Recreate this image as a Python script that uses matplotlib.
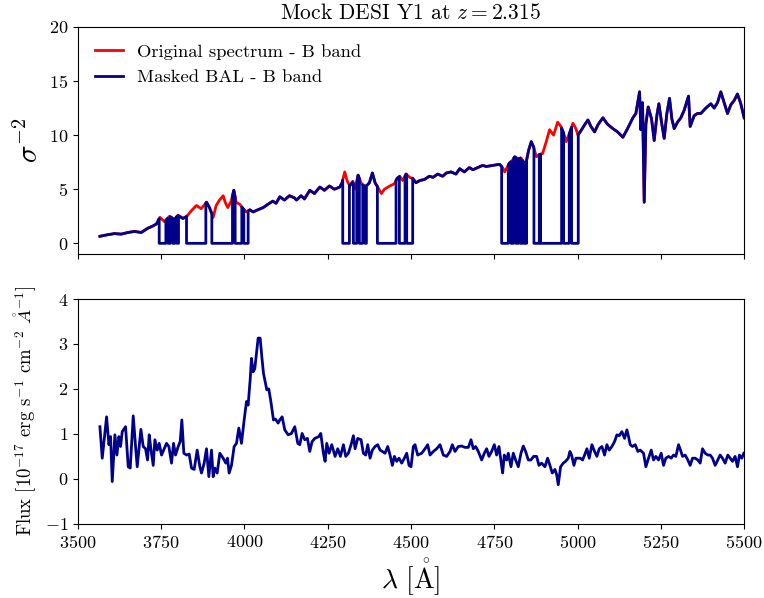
import numpy as np
import matplotlib
matplotlib.use("Agg")
import matplotlib.pyplot as plt

plt.rcParams['font.family'] = ['cmr10', 'DejaVu Serif']
plt.rcParams['mathtext.fontset'] = 'cm'
plt.rcParams['axes.formatter.use_mathtext'] = True

# sigma^-2 of the original spectrum
lam_ivar = [3566, 3590, 3610, 3630, 3650, 3670, 3690, 3710, 3725, 3736,
            3746, 3760, 3775, 3790, 3800, 3815, 3827, 3840, 3856, 3870,
            3886, 3895, 3906, 3915, 3925, 3936, 3942, 3950, 3960, 3968,
            3975, 3986, 3996, 4006, 4016, 4026, 4040, 4056, 4070, 4085,
            4095, 4106, 4120, 4135, 4150, 4156, 4170, 4180, 4196, 4210,
            4226, 4240, 4255, 4270, 4286, 4293, 4301, 4308, 4316, 4325,
            4333, 4341, 4350, 4358, 4366, 4375, 4384, 4392, 4400, 4411,
            4420, 4436, 4450, 4458, 4466, 4475, 4485, 4496, 4505, 4515,
            4526, 4540, 4555, 4566, 4580, 4595, 4606, 4620, 4635, 4646,
            4660, 4675, 4686, 4700, 4715, 4726, 4745, 4766, 4775, 4781,
            4795, 4805, 4811, 4822, 4830, 4838, 4845, 4853, 4861, 4868,
            4876, 4885, 4895, 4905, 4916, 4928, 4940, 4950, 4958, 4966,
            4976, 4986, 4995, 5001, 5010, 5020, 5031, 5040, 5051, 5062,
            5076, 5090, 5106, 5120, 5136, 5150, 5166, 5175, 5186, 5190,
            5195, 5200, 5205, 5212, 5222, 5230, 5238, 5244, 5252, 5260,
            5268, 5276, 5283, 5290, 5300, 5310, 5320, 5333, 5338, 5350,
            5360, 5370, 5385, 5400, 5410, 5420, 5430, 5440, 5450, 5460,
            5470, 5480, 5490, 5500]
ivar_orig = [0.65, 0.8, 0.9, 0.85, 1.0, 1.1, 1.0, 1.4, 1.6, 1.8,
             2.4, 2.0, 2.5, 2.2, 2.6, 2.3, 2.5, 3.0, 3.5, 3.2,
             3.8, 3.3, 2.4, 3.5, 4.0, 4.4, 3.8, 3.3, 3.9, 4.9,
             3.8, 3.6, 3.2, 2.9, 3.1, 2.9, 3.1, 3.3, 3.6, 3.9,
             3.7, 4.3, 4.0, 4.4, 4.2, 4.0, 4.4, 4.1, 4.9, 4.6,
             5.2, 4.9, 5.3, 5.0, 5.2, 5.6, 6.6, 5.8, 5.3, 5.7,
             5.0, 6.3, 5.6, 5.3, 5.3, 5.6, 6.5, 5.6, 5.2, 4.6,
             5.0, 5.3, 5.5, 6.0, 6.2, 5.8, 6.4, 6.1, 6.0, 5.6,
             5.8, 5.9, 6.2, 6.1, 6.4, 6.2, 6.5, 6.6, 6.4, 6.9,
             6.6, 7.0, 6.8, 7.0, 7.2, 7.1, 7.2, 7.3, 7.0, 6.6,
             7.4, 7.7, 8.0, 7.8, 7.9, 7.5, 7.4, 8.6, 9.4, 8.9,
             8.0, 8.2, 8.3, 9.3, 10.5, 10.0, 11.2, 10.8, 10.2, 9.4,
             10.2, 11.1, 10.6, 10.0, 10.4, 10.9, 11.4, 10.8, 10.3, 11.0,
             11.6, 11.0, 10.6, 10.3, 9.8, 10.6, 11.6, 12.0, 14.0, 10.5,
             13.0, 3.8, 11.0, 12.6, 11.5, 9.5, 11.8, 12.9, 11.2, 9.7,
             12.0, 13.4, 11.5, 10.6, 11.2, 11.6, 12.3, 13.6, 10.8, 11.8,
             12.0, 12.0, 12.5, 12.9, 12.5, 13.0, 14.0, 13.0, 12.0, 12.8,
             13.2, 13.8, 12.9, 11.6]

# BAL-masked wavelength windows (sigma^-2 set to zero)
mask_lo = [3744, 3770, 3784, 3797, 3826, 3902, 3972, 3998,
           4295, 4327, 4345, 4362, 4399, 4465, 4487,
           4772, 4800, 4815, 4828, 4840, 4869, 4889, 4958, 4982]
mask_hi = [3764, 3777, 3791, 3802, 3884, 3964, 3992, 4011,
           4315, 4337, 4355, 4366, 4455, 4482, 4505,
           4792, 4808, 4822, 4835, 4847, 4885, 4952, 4975, 5002]

# flux (bottom panel)
lam_flux = [3566, 3573, 3586, 3593, 3598, 3603, 3611, 3617, 3623, 3628,
            3633, 3643, 3651, 3657, 3666, 3673, 3678, 3689, 3696, 3703,
            3709, 3714, 3719, 3726, 3731, 3738, 3744, 3751, 3759, 3766,
            3773, 3781, 3787, 3793, 3801, 3807, 3812, 3818, 3826, 3834,
            3841, 3849, 3858, 3866, 3871, 3879, 3886, 3893, 3901, 3906,
            3911, 3918, 3926, 3936, 3944, 3949, 3954, 3961, 3969, 3976,
            3983, 3991, 3999, 4006, 4011, 4017, 4021, 4026, 4031, 4041,
            4047, 4052, 4057, 4067, 4073, 4080, 4087, 4093, 4101, 4106,
            4113, 4121, 4131, 4141, 4151, 4160, 4166, 4173, 4181, 4189,
            4196, 4203, 4211, 4223, 4229, 4237, 4242, 4247, 4254, 4262,
            4272, 4280, 4288, 4297, 4304, 4312, 4320, 4327, 4332, 4340,
            4350, 4357, 4364, 4370, 4377, 4384, 4392, 4400, 4407, 4414,
            4422, 4430, 4437, 4444, 4450, 4457, 4464, 4472, 4480, 4487,
            4494, 4500, 4507, 4512, 4520, 4532, 4542, 4550, 4557, 4567,
            4577, 4587, 4597, 4607, 4617, 4624, 4632, 4642, 4652, 4662,
            4672, 4680, 4687, 4694, 4702, 4712, 4720, 4727, 4734, 4742,
            4750, 4757, 4764, 4770, 4775, 4780, 4787, 4792, 4800, 4807,
            4814, 4822, 4830, 4837, 4844, 4852, 4860, 4868, 4877, 4884,
            4892, 4902, 4910, 4917, 4924, 4932, 4937, 4942, 4949, 4957,
            4964, 4972, 4977, 4982, 4989, 4995, 5001, 5008, 5015, 5021,
            5028, 5035, 5043, 5051, 5058, 5065, 5073, 5081, 5088, 5095,
            5103, 5111, 5118, 5125, 5133, 5141, 5148, 5153, 5158, 5165,
            5173, 5181, 5188, 5198, 5205, 5213, 5221, 5228, 5235, 5243,
            5251, 5258, 5265, 5273, 5281, 5288, 5295, 5303, 5309, 5315,
            5323, 5331, 5338, 5345, 5353, 5361, 5368, 5375, 5383, 5391,
            5398, 5405, 5413, 5421, 5428, 5435, 5443, 5451, 5458, 5465,
            5473, 5480, 5486, 5493, 5499]
flux = [1.16, 0.46, 1.38, 0.76, 0.94, -0.06, 0.98, 0.53, 0.94, 0.72,
        1.05, 1.16, 0.27, 0.24, 1.40, 0.72, 0.27, 1.10, 0.72, 0.67,
        0.42, 0.98, 0.67, 0.30, 0.87, 0.64, 0.79, 0.53, 0.67, 0.79,
        0.72, 0.35, 0.79, 0.53, 0.72, 0.83, 1.31, 0.57, 0.53, 0.55,
        0.24, 0.21, 0.64, 0.27, 0.13, 0.35, 0.67, 0.05, 0.64, 0.05,
        0.24, 0.13, 0.57, 0.46, 0.35, 0.46, 0.13, 0.30, 0.72, 0.79,
        1.13, 0.79, 1.31, 1.72, 1.64, 2.20, 2.68, 2.38, 2.45, 3.13,
        3.13, 2.72, 2.35, 1.98, 2.00, 1.68, 1.31, 1.33, 1.24, 1.31,
        1.38, 1.09, 0.98, 1.01, 1.16, 0.79, 0.76, 1.01, 0.87, 0.90,
        0.61, 0.83, 0.90, 0.94, 1.01, 0.57, 0.39, 0.79, 0.57, 0.76,
        0.50, 0.67, 0.50, 0.76, 0.50, 0.57, 0.76, 0.96, 0.67, 0.90,
        0.87, 0.57, 0.53, 0.76, 0.46, 0.64, 0.72, 0.76, 0.64, 0.61,
        0.57, 0.72, 0.53, 0.30, 0.50, 0.39, 0.46, 0.35, 0.46, 0.57,
        0.30, 0.27, 0.72, 0.76, 0.53, 0.57, 0.67, 0.76, 0.53, 0.61,
        0.67, 0.76, 0.53, 0.50, 0.61, 0.76, 0.61, 0.72, 0.73, 0.70,
        0.70, 0.87, 0.67, 0.72, 0.61, 0.42, 0.57, 0.67, 0.50, 0.61,
        0.76, 0.53, 0.72, 0.39, 0.13, 0.53, 0.42, 0.57, 0.27, 0.57,
        0.42, 0.27, 0.57, 0.73, 0.61, 0.42, 0.42, 0.50, 0.50, 0.30,
        0.35, 0.27, 0.46, 0.30, 0.13, 0.21, 0.10, -0.13, 0.27, 0.35,
        0.39, 0.46, 0.61, 0.53, 0.30, 0.46, 0.46, 0.46, 0.42, 0.53,
        0.67, 0.46, 0.76, 0.61, 0.50, 0.67, 0.72, 0.53, 0.76, 0.64,
        0.72, 0.83, 0.98, 0.96, 1.05, 0.90, 1.09, 0.94, 0.76, 0.72,
        0.76, 0.61, 0.64, 0.57, 0.27, 0.46, 0.64, 0.42, 0.50, 0.42,
        0.57, 0.30, 0.46, 0.50, 0.46, 0.53, 0.50, 0.76, 0.64, 0.50,
        0.53, 0.42, 0.30, 0.46, 0.46, 0.42, 0.35, 0.67, 0.57, 0.53,
        0.53, 0.46, 0.30, 0.42, 0.53, 0.46, 0.35, 0.53, 0.46, 0.39,
        0.50, 0.27, 0.53, 0.46, 0.57]


def apply_mask(lam, vals, lo, hi):
    # zero out the masked windows, keeping vertical edges at the window limits
    lam = np.asarray(lam, float)
    vals = np.asarray(vals, float)
    xs, ys = [], []
    i = 0
    for a, b in zip(lo, hi):
        while i < len(lam) and lam[i] < a:
            xs.append(lam[i]); ys.append(vals[i]); i += 1
        xs += [a, a, b, b]
        ys += [np.interp(a, lam, vals), 0.0, 0.0, np.interp(b, lam, vals)]
        while i < len(lam) and lam[i] <= b:
            i += 1
    xs += list(lam[i:]); ys += list(vals[i:])
    return np.array(xs), np.array(ys)


lam_mask, ivar_mask = apply_mask(lam_ivar, ivar_orig, mask_lo, mask_hi)

fig = plt.figure(figsize=(7.64, 5.98), dpi=100)
ax1 = fig.add_axes([0.102, 0.575, 0.872, 0.38])
ax2 = fig.add_axes([0.102, 0.124, 0.872, 0.376], sharex=ax1)

ax1.plot(lam_ivar, ivar_orig, color='red', lw=2, label='Original spectrum - B band')
ax1.plot(lam_mask, ivar_mask, color='darkblue', lw=2, label='Masked BAL - B band')
ax1.set_ylim(-1, 20)
ax1.set_yticks([0, 5, 10, 15, 20])
ax1.set_ylabel(r'$\sigma^{-2}$', fontsize=21)
ax1.set_title(r'Mock DESI Y1 at $z = 2.315$', fontsize=15.5)
ax1.legend(loc='upper left', frameon=False, fontsize=13.4, handlelength=1.5)
ax1.tick_params(labelbottom=False, labelsize=13)

ax2.plot(lam_flux, flux, color='darkblue', lw=2)
ax2.set_ylim(-1, 4)
ax2.set_xlim(3500, 5500)
ax2.set_xticks(np.arange(3500, 5501, 250))
ax2.set_ylabel(r'Flux [$10^{-17}$ erg s$^{-1}$ cm$^{-2}$ $\mathring{A}^{-1}$]', fontsize=13.5)
ax2.set_xlabel(r'$\lambda\ [\mathrm{\mathring{A}}]$', fontsize=20)
ax2.tick_params(labelsize=13)

fig.savefig('out.png', dpi=100)
